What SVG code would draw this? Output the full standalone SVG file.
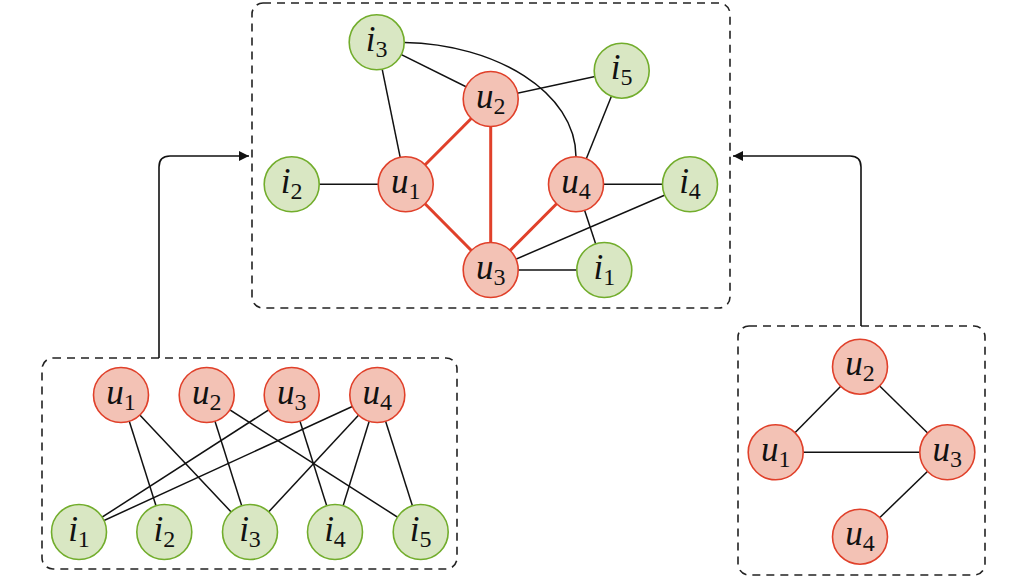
<svg xmlns="http://www.w3.org/2000/svg" width="1018" height="581" viewBox="0 0 1018 581">
<style>
.box{fill:none;stroke:#222;stroke-width:1.6;stroke-dasharray:8,6}
.u{fill:#f3c2b5;stroke:#e0402a;stroke-width:1.6}
.i{fill:#d9e7c3;stroke:#72ad2c;stroke-width:1.6}
.e{stroke:#111;stroke-width:1.5;fill:none}
.r{stroke:#e0402a;stroke-width:3;fill:none}
.a{stroke:#111;stroke-width:1.6;fill:none}
text{font-family:"Liberation Serif","DejaVu Serif",serif;fill:#111;text-anchor:middle}
.v{font-style:italic;font-size:35px}
.s{font-size:24px}
</style>
<defs>
<marker id="ah" viewBox="0 0 10 10" refX="10" refY="5" markerWidth="10" markerHeight="10" markerUnits="userSpaceOnUse" orient="auto">
<path d="M0,0 L10,5 L0,10 Z" fill="#111"/>
</marker>
</defs>
<g id="frames">
<rect class="box" x="252" y="3" width="478" height="305" rx="11"/>
<rect class="box" x="42" y="358" width="415" height="211" rx="11"/>
<rect class="box" x="738" y="326" width="247" height="249" rx="11"/>
</g>
<g id="connectors">
<path class="a" d="M159,358 V167 Q159,156 170,156 H249" marker-end="url(#ah)"/>
<path class="a" d="M861,326 V167 Q861,156 850,156 H733" marker-end="url(#ah)"/>
<line class="e" x1="376.7" y1="42.3" x2="405.7" y2="184.3"/>
<line class="e" x1="376.7" y1="42.3" x2="490.7" y2="99"/>
<path class="e" d="M404.5,42.5 C495,44 576,92 576,157"/>
<line class="e" x1="490.7" y1="99" x2="621.7" y2="70.7"/>
<line class="e" x1="621.7" y1="70.7" x2="576" y2="184.3"/>
<line class="e" x1="291.7" y1="184.3" x2="405.7" y2="184.3"/>
<line class="e" x1="576" y1="184.3" x2="690" y2="184.3"/>
<line class="e" x1="490.7" y1="270" x2="690" y2="184.3"/>
<line class="e" x1="576" y1="184.3" x2="604.3" y2="270"/>
<line class="e" x1="490.7" y1="270" x2="604.3" y2="270"/>
<line class="r" x1="405.7" y1="184.3" x2="490.7" y2="99"/>
<line class="r" x1="405.7" y1="184.3" x2="490.7" y2="270"/>
<line class="r" x1="490.7" y1="99" x2="490.7" y2="270"/>
<line class="r" x1="576" y1="184.3" x2="490.7" y2="270"/>
<line class="e" x1="121" y1="395" x2="164.3" y2="532"/>
<line class="e" x1="121" y1="395" x2="250" y2="532"/>
<line class="e" x1="206.7" y1="395" x2="250" y2="532"/>
<line class="e" x1="206.7" y1="395" x2="420.7" y2="532"/>
<line class="e" x1="291.7" y1="395" x2="79" y2="532"/>
<line class="e" x1="291.7" y1="395" x2="335" y2="532"/>
<line class="e" x1="377.3" y1="395" x2="79" y2="532"/>
<line class="e" x1="377.3" y1="395" x2="250" y2="532"/>
<line class="e" x1="377.3" y1="395" x2="335" y2="532"/>
<line class="e" x1="377.3" y1="395" x2="420.7" y2="532"/>
<line class="e" x1="860" y1="366.7" x2="775.7" y2="452.3"/>
<line class="e" x1="860" y1="366.7" x2="947.3" y2="452.3"/>
<line class="e" x1="775.7" y1="452.3" x2="947.3" y2="452.3"/>
<line class="e" x1="947.3" y1="452.3" x2="860" y2="536.7"/>
</g>
<g id="t-i3"><circle class="i" cx="376.7" cy="42.3" r="27.5"/><text x="376.7" y="51"><tspan class="v">i</tspan><tspan class="s" dy="6">3</tspan></text></g>
<g id="t-u2"><circle class="u" cx="490.7" cy="99" r="27.5"/><text x="490.7" y="107.7"><tspan class="v">u</tspan><tspan class="s" dy="6">2</tspan></text></g>
<g id="t-i5"><circle class="i" cx="621.7" cy="70.7" r="27.5"/><text x="621.7" y="79.4"><tspan class="v">i</tspan><tspan class="s" dy="6">5</tspan></text></g>
<g id="t-i2"><circle class="i" cx="291.7" cy="184.3" r="27.5"/><text x="291.7" y="193"><tspan class="v">i</tspan><tspan class="s" dy="6">2</tspan></text></g>
<g id="t-u1"><circle class="u" cx="405.7" cy="184.3" r="27.5"/><text x="405.7" y="193"><tspan class="v">u</tspan><tspan class="s" dy="6">1</tspan></text></g>
<g id="t-u4"><circle class="u" cx="576" cy="184.3" r="27.5"/><text x="576" y="193"><tspan class="v">u</tspan><tspan class="s" dy="6">4</tspan></text></g>
<g id="t-i4"><circle class="i" cx="690" cy="184.3" r="27.5"/><text x="690" y="193"><tspan class="v">i</tspan><tspan class="s" dy="6">4</tspan></text></g>
<g id="t-u3"><circle class="u" cx="490.7" cy="270" r="27.5"/><text x="490.7" y="278.7"><tspan class="v">u</tspan><tspan class="s" dy="6">3</tspan></text></g>
<g id="t-i1"><circle class="i" cx="604.3" cy="270" r="27.5"/><text x="604.3" y="278.7"><tspan class="v">i</tspan><tspan class="s" dy="6">1</tspan></text></g>
<g id="b-u1"><circle class="u" cx="121" cy="395" r="27.5"/><text x="121" y="403.7"><tspan class="v">u</tspan><tspan class="s" dy="6">1</tspan></text></g>
<g id="b-u2"><circle class="u" cx="206.7" cy="395" r="27.5"/><text x="206.7" y="403.7"><tspan class="v">u</tspan><tspan class="s" dy="6">2</tspan></text></g>
<g id="b-u3"><circle class="u" cx="291.7" cy="395" r="27.5"/><text x="291.7" y="403.7"><tspan class="v">u</tspan><tspan class="s" dy="6">3</tspan></text></g>
<g id="b-u4"><circle class="u" cx="377.3" cy="395" r="27.5"/><text x="377.3" y="403.7"><tspan class="v">u</tspan><tspan class="s" dy="6">4</tspan></text></g>
<g id="b-i1"><circle class="i" cx="79" cy="532" r="27.5"/><text x="79" y="540.7"><tspan class="v">i</tspan><tspan class="s" dy="6">1</tspan></text></g>
<g id="b-i2"><circle class="i" cx="164.3" cy="532" r="27.5"/><text x="164.3" y="540.7"><tspan class="v">i</tspan><tspan class="s" dy="6">2</tspan></text></g>
<g id="b-i3"><circle class="i" cx="250" cy="532" r="27.5"/><text x="250" y="540.7"><tspan class="v">i</tspan><tspan class="s" dy="6">3</tspan></text></g>
<g id="b-i4"><circle class="i" cx="335" cy="532" r="27.5"/><text x="335" y="540.7"><tspan class="v">i</tspan><tspan class="s" dy="6">4</tspan></text></g>
<g id="b-i5"><circle class="i" cx="420.7" cy="532" r="27.5"/><text x="420.7" y="540.7"><tspan class="v">i</tspan><tspan class="s" dy="6">5</tspan></text></g>
<g id="r-u2"><circle class="u" cx="860" cy="366.7" r="27.5"/><text x="860" y="375.4"><tspan class="v">u</tspan><tspan class="s" dy="6">2</tspan></text></g>
<g id="r-u1"><circle class="u" cx="775.7" cy="452.3" r="27.5"/><text x="775.7" y="461"><tspan class="v">u</tspan><tspan class="s" dy="6">1</tspan></text></g>
<g id="r-u3"><circle class="u" cx="947.3" cy="452.3" r="27.5"/><text x="947.3" y="461"><tspan class="v">u</tspan><tspan class="s" dy="6">3</tspan></text></g>
<g id="r-u4"><circle class="u" cx="860" cy="536.7" r="27.5"/><text x="860" y="545.4"><tspan class="v">u</tspan><tspan class="s" dy="6">4</tspan></text></g>
</svg>
